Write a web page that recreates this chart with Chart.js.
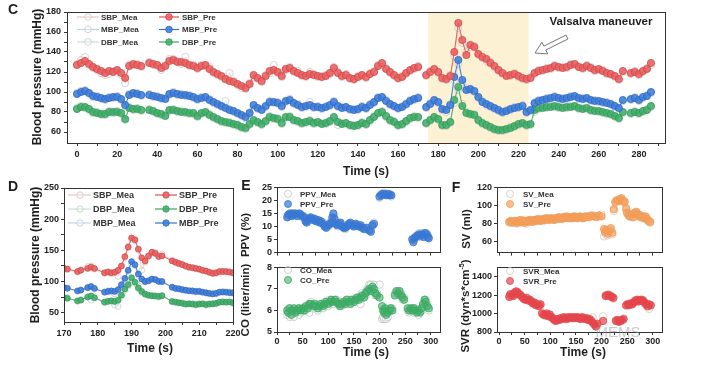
<!DOCTYPE html>
<html>
<head>
<meta charset="utf-8">
<script src="https://cdn.jsdelivr.net/npm/chart.js@4.4.0/dist/chart.umd.min.js"></script>
<style>
body{margin:0;background:#fff;width:710px;height:371px;overflow:hidden;position:relative;font-family:"Liberation Sans",Arial,sans-serif}
canvas{position:absolute}
.t{position:absolute;font-weight:bold;color:#1e1e1e;white-space:nowrap;line-height:1;transform:translate(-50%,-50%)}
.r{transform:translate(-50%,-50%) rotate(-90deg)}
sup{font-size:7px;vertical-align:5px}
</style>
</head>
<body>
<canvas id="panelC"></canvas>
<canvas id="panelD"></canvas>
<canvas id="panelE1"></canvas>
<canvas id="panelE2"></canvas>
<canvas id="panelF1"></canvas>
<canvas id="panelF2"></canvas>

<div class="t" style="left:13px;top:9px;font-size:14px">C</div>
<div class="t r" style="left:37px;top:77px;font-size:12px">Blood pressure (mmHg)</div>
<div class="t" style="left:366px;top:171px;font-size:12px">Time (s)</div>
<div class="t" style="left:601px;top:22px;font-size:11.5px">Valsalva maneuver</div>

<div class="t" style="left:13px;top:186px;font-size:14px">D</div>
<div class="t r" style="left:35px;top:255px;font-size:12px">Blood pressure (mmHg)</div>
<div class="t" style="left:150px;top:348px;font-size:12px">Time (s)</div>

<div class="t" style="left:246px;top:185px;font-size:14px">E</div>
<div class="t r" style="left:246px;top:235px;font-size:11.5px">PPV (%)</div>
<div class="t r" style="left:246px;top:300px;font-size:11.5px">CO (liter/min)</div>
<div class="t" style="left:366px;top:352px;font-size:12px">Time (s)</div>

<div class="t" style="left:456px;top:187px;font-size:14px">F</div>
<div class="t r" style="left:467px;top:229px;font-size:11.5px">SV (ml)</div>
<div class="t r" style="left:465px;top:306px;font-size:11.5px">SVR (dyn*s*cm<sup>-5</sup>)</div>
<div class="t" style="left:583px;top:352px;font-size:12px">Time (s)</div>
<div class="t" style="left:618px;top:331px;font-size:15px;font-weight:normal;color:rgba(150,150,150,0.5)">MEMS</div>

<script>
// ---- panel C: blood pressure over the whole run (2 s steps) ----
const cTime = [0,2,4,6,8,10,12,14,16,18,20,22,24,26,28,30,32,34,36,38,40,42,44,46,48,50,52,54,56,58,
  60,62,64,66,68,70,72,74,76,78,80,82,84,86,88,90,92,94,96,98,100,102,104,106,108,110,112,114,116,118,
  120,122,124,126,128,130,132,134,136,138,140,142,144,146,148,150,152,154,156,158,160,162,164,166,168,170,172,174,176,178,
  180,182,184,186,188,190,192,194,196,198,200,202,204,206,208,210,212,214,216,218,220,222,224,226,228,230,232,234,236,238,
  240,242,244,246,248,250,252,254,256,258,260,262,264,266,268,270,272,274,276,278,280,282,284,286];

const cSbpPre = [127,129,131,128,125,123,121,119,121,120, 122,119,114,126,128,127,126,null,129,128,
  127,124,126,131,132,130,130,129,127,126, 124,126,127,123,120,118,116,113,111,110,
  108,106,104,108,117,114,111,116,121,122, 120,116,123,124,121,119,117,116,118,117,
  116,115,116,119,124,119,116,117,114,113, 115,117,115,118,120,126,129,123,120,117,
  114,115,119,122,124,125,null,117,120,123, 120,114,113,116,140,169,152,137,147,145,
  138,135,133,129,126,122,119,116,117,118, 116,114,113,114,119,121,122,123,124,126,
  125,124,125,127,128,125,124,126,124,122, 123,121,119,118,116,113,121,null,119,120,
  118,121,123,129];
const cSbpMea = [128,132,135,127,124,122,119,117,118,121, 121,117,109,127,127,128,125,null,130,127,
  126,122,127,133,133,131,128,135,126,127, 123,127,126,125,119,117,115,112,119,111,
  107,104,103,109,115,113,110,117,119,127, 119,115,122,125,120,121,116,115,120,118,
  115,116,117,118,125,120,115,118,113,112, 116,116,114,119,121,127,127,124,119,116,
  113,116,118,121,123,126,null,116,121,122, 119,113,112,117,136,164,149,140,145,146,
  137,134,131,130,125,121,118,117,116,119, 115,113,112,115,118,122,121,124,123,127,
  124,125,124,128,127,126,123,127,125,121, 122,122,118,117,115,112,120,null,118,121,
  117,120,124,127];
const cMbpPre = [98,100,101,99,96,95,94,93,94,95, 95,93,87,97,99,98,97,null,97,96,
  95,94,93,98,99,98,97,97,96,95, 93,94,95,92,90,88,86,84,82,81,
  79,77,75,79,87,84,82,86,90,90, 89,86,91,92,89,87,85,86,87,85,
  85,84,85,87,90,86,84,85,83,82, 83,85,84,87,90,94,95,91,88,86,
  84,85,88,91,93,94,null,85,88,92, 90,83,82,87,115,132,112,102,103,101,
  95,90,88,86,84,82,80,81,83,84, 85,86,80,82,89,91,92,93,94,95,
  94,93,94,95,96,94,93,94,92,91, 91,90,89,88,86,84,92,null,93,94,
  92,95,96,100];
const cMbpMea = [99,101,102,98,95,96,93,92,95,94, 96,92,86,98,98,99,96,null,98,95,
  96,93,94,97,100,97,98,96,97,94, 92,95,94,93,89,87,85,91,83,80,
  78,76,74,80,86,83,83,85,91,89, 90,85,90,93,88,88,84,85,90,84,
  86,83,86,86,91,85,85,84,82,83, 82,86,83,88,89,95,94,92,87,85,
  83,86,87,92,92,95,null,84,89,91, 89,82,80,88,112,128,110,104,102,100,
  94,91,87,85,83,81,79,82,82,85, 84,87,79,81,88,92,91,94,93,96,
  93,94,93,96,95,93,94,93,91,92, 90,89,90,87,85,83,91,null,92,95,
  91,94,97,99];
const cDbpPre = [83,85,85,83,80,79,78,78,80,80, 80,79,73,84,83,83,82,null,82,81,
  79,78,76,82,82,81,80,80,79,79, 76,79,80,77,75,73,71,70,69,68,
  67,65,64,68,72,70,68,71,75,74, 73,69,75,75,72,71,69,70,71,69,
  70,68,69,71,75,70,68,69,67,66, 67,69,68,72,75,79,80,76,72,70,
  67,68,71,74,75,75,null,69,72,75, 73,67,67,70,92,105,86,79,78,77,
  72,69,67,65,63,62,62,63,64,66, 68,69,67,68,82,84,84,85,85,86,
  85,84,85,85,86,84,83,84,82,81, 81,80,79,78,76,74,80,null,79,80,
  79,81,82,86];
const cDbpMea = [84,86,84,82,79,80,77,77,81,79, 81,78,72,85,82,84,81,null,83,80,
  78,77,77,81,83,80,81,79,78,78, 75,78,79,78,74,72,70,69,70,67,
  66,64,63,67,71,69,67,70,76,73, 74,68,74,76,71,70,68,69,72,68,
  69,69,68,70,74,67,69,68,66,67, 66,70,67,71,76,78,81,75,71,71,
  66,67,70,73,76,74,null,68,71,74, 72,66,66,69,89,102,88,80,77,78,
  71,68,66,64,62,61,61,62,65,65, 67,68,66,67,80,83,85,84,86,85,
  84,85,84,86,85,83,84,83,81,82, 80,79,78,77,75,73,79,null,78,81,
  78,80,83,85];
const cXTicks = [0,10,20,30,40,50,60,70,80,90,100,110,120,130,140,150,160,170,180,190,200,210,220,230,240,250,260,270,280,290];
const cXLabels = [0,20,40,60,80,100,120,140,160,180,200,220,240,260,280];
const cYTicks = [60,70,80,90,100,110,120,130,140,150,160,170,180];
const cYLabels = [60,80,100,120,140,160,180];
const valsalva = [175, 225];

// ---- panel D: zoom on the Valsalva manoeuvre ----
const dTime = [170,171,174,175,177,178,179,182,183,184,185,186,187,188,189,190,191,192,193,194,195,196,197,198,199,
  202,203,204,205,206,207,208,209,210,211,212,213,214,215,216,217,218,219,220];
const dSbpPre = [121,120,116,118,121,123,121,114,115,114,115,118,125,140,155,170,167,152,138,133,141,147,145,140,141,
  133,131,129,127,125,123,122,121,120,118,117,115,113,114,116,116,116,115,114];
const dSbpMea = [122,119,115,119,124,125,120,113,116,112,114,108,124,138,157,168,165,150,118,131,140,146,147,142,144,
  134,130,128,128,124,122,123,120,119,117,116,114,114,113,115,117,115,116,113];
const dMbpPre = [90,89,85,86,90,92,89,83,84,85,84,87,95,105,118,132,127,112,104,100,101,104,103,100,100,
  91,89,88,87,86,85,85,84,84,83,82,81,80,81,83,83,83,82,82];
const dMbpMea = [89,90,84,87,91,91,88,82,85,84,80,85,93,103,116,128,125,110,100,99,102,103,104,101,99,
  90,88,89,86,85,86,84,83,85,82,81,80,81,80,82,84,82,83,81];
const dDbpPre = [74,73,69,70,75,77,74,67,68,69,68,70,78,88,95,106,99,90,84,80,78,77,77,76,77,
  68,67,66,65,64,64,64,63,64,64,63,64,64,65,67,67,67,67,66];
const dDbpMea = [73,74,68,71,76,70,73,66,69,68,62,60,76,86,93,103,97,88,82,79,77,78,76,75,78,
  67,66,65,66,63,65,63,62,63,65,62,63,65,64,66,68,66,68,65];
const dXTicks = [170,175,180,185,190,195,200,205,210,215,220];
const dXLabels = [170,180,190,200,210,220];
const dYTicks = [50,75,100,125,150,175,200,225,250];
const dYLabels = [50,100,150,200,250];

// ---- panel E: PPV and CO ----
const ppvTime = [20,22,25,28,30,33,36,40,43,46,50,53,56,58,60,63,66,70,73,76,80,83,86,90,93,96,100,103,106,108,
  110,112,115,118,121,124,127,130,133,136,140,143,146,150,153,156,160,163,166,170,175,180,183,186,189,
  200,203,206,209,213,217,220,223,264,266,268,271,274,277,280,283,286,289,292,294,296];
const ppvPre = [13.5,14.5,15,14,15,14.5,15,14,15,14.5,14,13.5,12,11.5,12.5,13,13.5,12.5,13,12,
  12.5,11.5,12,11,10,9.5,10.5,11,11.5,13.5,15,13,11,10.5,11,11.5,10,9.5,9.5,10,
  11,11.5,10.5,10,11,10.5,10,10.5,9.5,9,9.5,8.5,8,10.5,11,
  21.5,22,22.5,22.5,22,22.5,22,22,5,4,5.5,6,6.5,7,6.5,7,6,7.5,7,6,5.5];
const ppvMea = [14,14,14.5,14.5,14,15,14,14.5,14.5,15,13.5,14,12.5,12,12,13.5,13,13,12.5,12.5,
  12,12,11.5,11.5,10.5,10,10,11.5,11,13,14.5,13.5,11.5,10,11.5,11,10.5,10,9,10.5,
  10.5,11,11,10.5,10.5,11,10.5,10,10,9.5,9,9,8.5,10,11.5,
  21,22.5,22,23,22.5,22,22.5,21.5,5.5,4.5,5,6.5,6,7.5,6,7.5,6.5,7,7.5,6.5,6];
const coTime = [20,22,25,28,30,33,36,40,43,46,50,53,56,60,63,66,70,73,76,80,83,86,90,93,96,100,103,106,110,113,
  116,120,123,126,130,133,136,140,143,146,150,153,156,160,163,166,170,173,176,180,183,186,189,192,195,200,
  205,207,209,211,213,216,219,222,225,230,233,236,239,242,245,248,255,258,261,264,267,270,273,276,279,282,285,288,290,293,296];
const coPre = [6.0,5.9,6.1,5.8,6.0,6.1,5.9,6.0,6.1,6.0,6.1,6.0,6.2,6.1,6.3,6.3,6.2,6.3,6.2,6.1,
  6.2,6.3,6.2,6.3,6.4,6.3,6.4,6.5,6.4,6.5,6.4,6.3,6.2,6.3,6.4,6.3,6.5,6.4,6.3,6.5,
  6.4,6.5,6.6,6.5,6.6,6.7,6.6,6.8,6.9,7.0,6.9,7.1,7.0,6.8,6.7,6.6,6.2,6.0,5.9,6.1,
  5.8,5.9,6.0,6.1,6.0,6.7,6.9,6.8,6.9,6.7,6.6,6.5,6.1,6.0,6.1,6.0,6.1,6.0,5.9,6.0,
  5.9,6.1,6.3,6.5,6.4,6.2,6.1];
const coMea = [5.8,6.1,5.7,6.0,5.9,5.7,6.0,6.1,5.8,5.9,6.0,6.1,6.0,6.2,5.9,6.4,6.1,6.2,6.3,6.0,
  6.3,6.2,6.1,6.4,6.3,6.2,6.5,6.4,6.3,6.4,6.5,6.4,6.3,6.2,6.3,6.4,6.4,6.5,6.4,6.4,
  6.5,6.4,6.5,6.6,6.3,6.8,6.7,6.7,7.0,7.2,7.2,6.9,7.2,6.7,6.8,7.2,5.6,5.7,5.6,6.0,
  5.6,5.7,6.1,6.0,6.1,6.8,6.8,6.9,6.7,6.8,6.5,6.6,6.0,5.9,6.0,6.1,5.9,6.1,6.0,5.8,
  6.0,6.0,6.2,6.4,6.5,6.3,6.0];

// ---- panel F: SV and SVR ----
const svTime = [20,23,26,29,32,35,38,41,44,47,50,53,56,59,62,65,68,71,74,77,80,83,86,89,92,95,98,101,104,107,
  110,113,116,119,122,125,128,131,134,137,140,143,146,149,152,155,158,161,164,167,170,175,180,185,190,195,200,
  205,207,209,212,215,218,221,224,227,230,233,236,239,242,245,248,250,253,256,259,262,265,268,
  271,274,277,280,283,286,289,292,295];
const svPre = [82,83,81,82,83,81,82,84,82,83,81,83,82,84,83,82,84,83,84,85,
  83,84,85,84,86,85,84,86,85,84,86,85,87,86,85,87,86,88,87,86,
  87,86,88,87,86,87,88,87,86,87,88,87,89,88,87,89,88,74,71,73,
  69,72,75,70,96,104,106,105,107,108,105,104,97,92,89,88,90,87,92,93,
  90,88,89,87,86,88,85,83,82];
const svMea = [81,82,82,83,81,80,83,82,81,84,82,80,83,82,84,83,82,84,85,83,
  84,85,83,85,84,86,85,85,86,85,85,86,86,87,86,86,87,87,86,87,
  86,87,87,88,87,86,87,86,87,88,87,88,88,89,88,88,90,66,70,68,
  67,71,73,68,94,103,105,106,106,107,104,105,95,91,90,87,91,88,91,92,
  91,87,88,86,87,87,84,82,81];
const svrTime = [20,22,25,28,30,33,36,39,42,45,48,51,54,57,60,63,66,69,72,75,78,81,84,87,90,93,96,99,102,105,
  108,111,114,117,120,123,126,129,132,135,138,141,144,147,150,153,156,159,162,165,
  168,171,174,177,180,183,186,189,192,203,208,211,214,217,220,223,228,231,234,237,
  240,243,248,251,254,257,260,263,266,269,272,275,278,281,284,287,290,293,296];
const svrPre = [1180,1210,1200,1190,1220,1240,1230,1210,1200,1180,1160,1150,1170,1140,1150,1130,1110,1120,1090,1100,
  1080,1100,1000,990,980,1000,970,990,960,950,930,920,940,930,950,940,960,950,940,960,
  950,960,950,960,950,960,950,940,960,950,940,950,930,940,920,900,880,860,890,920,
  1190,1200,1200,1190,1180,1170,920,930,910,920,930,940,1090,1100,1090,1110,1100,1120,1140,1150,
  1130,1140,1150,1140,1120,1100,1080,1100,1090];
const svrMea = [1190,1200,1190,1210,1230,1220,1240,1200,1190,1170,1170,1160,1150,1150,1140,1140,1100,1110,1100,1090,
  1090,1080,1010,980,990,990,980,980,970,940,940,930,930,940,940,950,950,960,950,950,
  960,950,960,950,960,950,960,950,950,960,950,940,940,930,930,960,890,870,870,970,
  1200,1190,1210,1180,1190,1160,930,920,920,930,920,950,1080,1110,1100,1100,1110,1130,1130,1140,
  1140,1150,1140,1150,1110,1090,1070,1050,1080];
const efXTicks = [0,25,50,75,100,125,150,175,200,225,250,275,300];
const efXLabels = [0,50,100,150,200,250,300];
const ppvTicks = [0,5,10,15,20,25];
const coTicks = [5,6,7,8];
const svTicks = [60,80,100,120];
const svrTicks = [800,1000,1200,1400];

// colours
const red = {fill: 'rgba(234,96,96,0.88)', stroke: '#d04848', line: '#dd5252'};
const blue = {fill: 'rgba(62,126,218,0.88)', stroke: '#2f66c4', line: '#3a72d0'};
const green = {fill: 'rgba(66,174,106,0.88)', stroke: '#309a58', line: '#3aa560'};
const redMea = {fill: 'rgba(255,255,255,0.25)', stroke: 'rgba(205,192,192,0.9)', line: 'rgba(240,190,190,0.9)'};
const blueMea = {fill: 'rgba(255,255,255,0.25)', stroke: 'rgba(190,196,204,0.9)', line: 'rgba(190,205,225,0.9)'};
const greenMea = {fill: 'rgba(255,255,255,0.25)', stroke: 'rgba(190,202,194,0.9)', line: 'rgba(195,222,202,0.9)'};
const ppvStyle = {fill: 'rgba(55,120,215,0.7)', stroke: '#3a78d0'};
const coStyle = {fill: 'rgba(62,175,102,0.6)', stroke: '#3aa863'};
const svStyle = {fill: 'rgba(246,160,92,0.7)', stroke: '#f09a55'};
const svrStyle = {fill: 'rgba(232,66,72,0.7)', stroke: '#e04a50'};
const hollow = {fill: 'rgba(255,255,255,0.3)', stroke: 'rgba(185,185,185,0.85)'};
const hollowWarm = {fill: 'rgba(255,255,255,0.3)', stroke: 'rgba(215,190,170,0.85)'};
const FONT = '"Liberation Sans", Arial, sans-serif';

function series(xs, ys, st, r, line, order) {
  return {
    data: xs.map((x, i) => ({x: x, y: ys[i]})),
    showLine: line,
    spanGaps: false,
    borderColor: st.line || st.stroke,
    borderWidth: 0.9,
    pointRadius: r,
    pointBackgroundColor: st.fill,
    pointBorderColor: st.stroke,
    pointBorderWidth: 0.8,
    order: order
  };
}

function drawArrow(ctx, from, to) {
  const dx = to[0] - from[0], dy = to[1] - from[1], len = Math.hypot(dx, dy);
  const ux = dx / len, uy = dy / len, nx = -uy, ny = ux;
  const sw = 2.2, hw = 6.5, hl = 11;
  const bx = to[0] - ux * hl, by = to[1] - uy * hl;
  ctx.beginPath();
  ctx.moveTo(from[0] + nx * sw, from[1] + ny * sw);
  ctx.lineTo(bx + nx * sw, by + ny * sw);
  ctx.lineTo(bx + nx * hw, by + ny * hw);
  ctx.lineTo(to[0], to[1]);
  ctx.lineTo(bx - nx * hw, by - ny * hw);
  ctx.lineTo(bx - nx * sw, by - ny * sw);
  ctx.lineTo(from[0] - nx * sw, from[1] - ny * sw);
  ctx.closePath();
  ctx.fillStyle = '#fff';
  ctx.fill();
  ctx.strokeStyle = '#777';
  ctx.lineWidth = 1;
  ctx.stroke();
}

// frame, shaded band, legend and arrow
const boxPlugin = {
  id: 'box',
  beforeDatasetsDraw(chart, args, opts) {
    if (!opts.band) return;
    const a = chart.chartArea, x = chart.scales.x;
    const x0 = x.getPixelForValue(opts.band[0]), x1 = x.getPixelForValue(opts.band[1]);
    chart.ctx.save();
    chart.ctx.fillStyle = '#fdf1d3';
    chart.ctx.fillRect(x0, a.top, x1 - x0, a.bottom - a.top);
    chart.ctx.restore();
  },
  afterDraw(chart, args, opts) {
    const a = chart.chartArea, ctx = chart.ctx;
    ctx.save();
    ctx.strokeStyle = '#333';
    ctx.lineWidth = 1;
    ctx.strokeRect(Math.round(a.left) + 0.5, Math.round(a.top) + 0.5,
      Math.round(a.right - a.left), Math.round(a.bottom - a.top));
    ctx.translate(-opts.ox, -opts.oy);
    (opts.legend || []).forEach(it => {
      if (it.line) {
        ctx.strokeStyle = it.st.line;
        ctx.lineWidth = 1.2;
        ctx.beginPath();
        ctx.moveTo(it.line[0], it.cy);
        ctx.lineTo(it.line[1], it.cy);
        ctx.stroke();
      }
      ctx.beginPath();
      ctx.arc(it.cx, it.cy, it.r, 0, Math.PI * 2);
      ctx.fillStyle = it.st.fill;
      ctx.fill();
      ctx.strokeStyle = it.st.stroke;
      ctx.lineWidth = 0.8;
      ctx.stroke();
      ctx.fillStyle = '#333';
      ctx.font = 'bold ' + it.size + 'px ' + FONT;
      ctx.textBaseline = 'middle';
      ctx.fillText(it.text, it.tx, it.cy + 0.5);
    });
    if (opts.arrow) drawArrow(ctx, opts.arrow[0], opts.arrow[1]);
    ctx.restore();
  }
};
Chart.register(boxPlugin);

function axis(def, size, isX) {
  return {
    type: 'linear',
    min: def.min,
    max: def.max,
    afterBuildTicks: s => { s.ticks = def.ticks.map(v => ({value: v})); },
    afterFit: s => { if (isX) s.height = size; else s.width = size; },
    grid: {drawOnChartArea: false, drawTicks: true, tickLength: 3, color: '#333'},
    border: {display: false},
    ticks: {
      display: def.labels.length > 0,
      autoSkip: false,
      maxRotation: 0,
      padding: def.pad,
      color: '#222',
      font: {family: FONT, size: 9, weight: 'bold'},
      callback: v => def.labels.includes(v) ? String(v) : ''
    }
  };
}

function makeChart(id, box, area, xDef, yDef, datasets, plug) {
  const cv = document.getElementById(id);
  cv.style.left = box[0] + 'px';
  cv.style.top = box[1] + 'px';
  cv.width = box[2];
  cv.height = box[3];
  plug.ox = box[0];
  plug.oy = box[1];
  return new Chart(cv, {
    type: 'scatter',
    data: {datasets: datasets},
    options: {
      responsive: false,
      animation: false,
      devicePixelRatio: 1,
      layout: {padding: {left: 0, bottom: 0, top: area[1] - box[1], right: box[0] + box[2] - area[2]}},
      plugins: {legend: {display: false}, tooltip: {enabled: false}, box: plug},
      scales: {
        x: axis(xDef, box[1] + box[3] - area[3], true),
        y: axis(yDef, area[0] - box[0], false)
      }
    }
  });
}

function legendPair(row, y, mea, pre, meaSt, preSt, size, r) {
  return [
    {text: mea, st: meaSt, cx: row.m[1], cy: y, line: [row.m[0], row.m[2]], tx: row.m[3], r: r, size: size},
    {text: pre, st: preSt, cx: row.p[1], cy: y, line: [row.p[0], row.p[2]], tx: row.p[3], r: r, size: size}
  ];
}

// C
const cRow = {m: [77, 88, 99, 101], p: [159, 169, 179, 182]};
makeChart('panelC', [0, 0, 680, 185], [67, 12, 665, 143],
  {min: -5, max: 293, ticks: cXTicks, labels: cXLabels, pad: 3},
  {min: 49, max: 180, ticks: cYTicks, labels: cYLabels, pad: 3},
  [
    series(cTime, cSbpPre, red, 3.6, true, 0),
    series(cTime, cMbpPre, blue, 3.6, true, 0),
    series(cTime, cDbpPre, green, 3.6, true, 0),
    series(cTime, cSbpMea, redMea, 3.6, true, 1),
    series(cTime, cMbpMea, blueMea, 3.6, true, 1),
    series(cTime, cDbpMea, greenMea, 3.6, true, 1)
  ],
  {
    band: valsalva,
    arrow: [[567, 37], [535, 53]],
    legend: [].concat(
      legendPair(cRow, 17, 'SBP_Mea', 'SBP_Pre', redMea, red, 8, 3.3),
      legendPair(cRow, 29.5, 'MBP_Mea', 'MBP_Pre', blueMea, blue, 8, 3.3),
      legendPair(cRow, 42, 'DBP_Mea', 'DBP_Pre', greenMea, green, 8, 3.3))
  });

// D
const dRow = {m: [68, 80, 91, 93], p: [155, 166, 177, 179]};
makeChart('panelD', [0, 175, 245, 195], [64, 188, 233, 322],
  {min: 170, max: 220, ticks: dXTicks, labels: dXLabels, pad: 3},
  {min: 35, max: 250, ticks: dYTicks, labels: dYLabels, pad: 2},
  [
    series(dTime, dSbpPre, red, 2.9, true, 0),
    series(dTime, dMbpPre, blue, 2.9, true, 0),
    series(dTime, dDbpPre, green, 2.9, true, 0),
    series(dTime, dSbpMea, redMea, 2.9, true, 1),
    series(dTime, dMbpMea, blueMea, 2.9, true, 1),
    series(dTime, dDbpMea, greenMea, 2.9, true, 1)
  ],
  {
    legend: [].concat(
      legendPair(dRow, 195, 'SBP_Mea', 'SBP_Pre', redMea, red, 9, 3.2),
      legendPair(dRow, 209, 'DBP_Mea', 'DBP_Pre', greenMea, green, 9, 3.2),
      legendPair(dRow, 223, 'MBP_Mea', 'MBP_Pre', blueMea, blue, 9, 3.2))
  });

function dotLegend(x, tx, y1, y2, mea, pre, meaSt, preSt) {
  return [
    {text: mea, st: meaSt, cx: x, cy: y1, tx: tx, r: 3.5, size: 8},
    {text: pre, st: preSt, cx: x, cy: y2, tx: tx, r: 3.5, size: 8}
  ];
}

// E
makeChart('panelE1', [232, 180, 220, 80], [277, 187, 440, 256],
  {min: 0, max: 318, ticks: efXTicks, labels: [], pad: 1},
  {min: 0, max: 25, ticks: ppvTicks, labels: ppvTicks, pad: 2},
  [series(ppvTime, ppvPre, ppvStyle, 3.7, false, 0), series(ppvTime, ppvMea, hollow, 3.7, false, 1)],
  {legend: dotLegend(288, 300, 194, 204, 'PPV_Mea', 'PPV_Pre', hollow, ppvStyle)});
makeChart('panelE2', [232, 260, 220, 100], [277, 264, 440, 332],
  {min: 0, max: 318, ticks: efXTicks, labels: efXLabels, pad: 1},
  {min: 5, max: 8, ticks: coTicks, labels: coTicks, pad: 2},
  [series(coTime, coPre, coStyle, 3.7, false, 0), series(coTime, coMea, hollow, 3.7, false, 1)],
  {legend: dotLegend(288, 300, 270, 280, 'CO_Mea', 'CO_Pre', hollow, coStyle)});

// F
makeChart('panelF1', [452, 180, 220, 80], [497, 187, 662, 256],
  {min: -4, max: 318, ticks: efXTicks, labels: [], pad: 1},
  {min: 48, max: 120, ticks: svTicks, labels: svTicks, pad: 2},
  [series(svTime, svPre, svStyle, 3.7, false, 0), series(svTime, svMea, hollowWarm, 3.7, false, 1)],
  {legend: dotLegend(510, 523, 194, 204, 'SV_Mea', 'SV_Pre', hollowWarm, svStyle)});
makeChart('panelF2', [452, 260, 220, 100], [497, 264, 662, 332],
  {min: -4, max: 318, ticks: efXTicks, labels: efXLabels, pad: 1},
  {min: 800, max: 1500, ticks: svrTicks, labels: svrTicks, pad: 2},
  [series(svrTime, svrPre, svrStyle, 3.7, false, 0), series(svrTime, svrMea, hollowWarm, 3.7, false, 1)],
  {legend: dotLegend(510, 523, 271, 281, 'SVR_Mea', 'SVR_Pre', hollowWarm, svrStyle)});
</script>
</body>
</html>
